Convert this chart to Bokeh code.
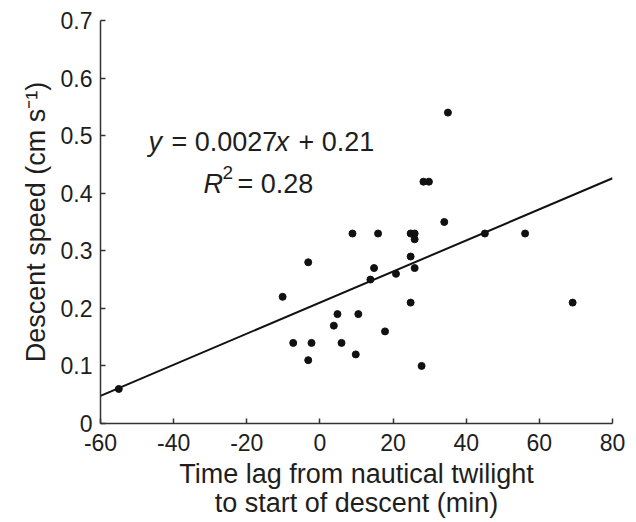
from bokeh.plotting import figure
from bokeh.models import Range1d, Label, FixedTicker, ColumnDataSource
from bokeh.embed import file_html
from bokeh.resources import INLINE

# ---- data ----
time_lag = [-55.0, -10.2, -7.3, -3.2, -3.2, -2.3, 3.8, 4.8, 5.9, 8.9, 9.8,
            10.5, 13.8, 14.8, 15.9, 17.8, 20.8, 24.8, 24.8, 24.8, 25.9, 25.9,
            25.9, 27.8, 28.3, 29.8, 34.0, 35.0, 45.1, 56.1, 69.1]
descent_speed = [0.06, 0.22, 0.14, 0.28, 0.11, 0.14, 0.17, 0.19, 0.14, 0.33, 0.12,
                 0.19, 0.25, 0.27, 0.33, 0.16, 0.26, 0.33, 0.29, 0.21, 0.33, 0.32,
                 0.27, 0.10, 0.42, 0.42, 0.35, 0.54, 0.33, 0.33, 0.21]
fit_slope = 0.0027
fit_intercept = 0.21
r_squared = "0.28"

x_ticks = [-60, -40, -20, 0, 20, 40, 60, 80]
x_tick_labels = ["-60", "-40", "-20", "0", "20", "40", "60", "80"]
y_ticks = [0, 0.1, 0.2, 0.3, 0.4, 0.5, 0.6, 0.7]
y_tick_labels = ["0", "0.1", "0.2", "0.3", "0.4", "0.5", "0.6", "0.7"]

x_title = "Time lag from nautical twilight\nto start of descent (min)"
y_title = "Descent speed (cm s\u207b\u00b9)"

FONT = "Liberation Sans"
TXT = "#1e1e1e"

p = figure(width=636, height=522, output_backend="svg", toolbar_location=None,
           x_range=Range1d(-60, 80), y_range=Range1d(0, 0.7),
           min_border_left=100, min_border_right=24, min_border_top=20,
           min_border_bottom=99)
p.outline_line_color = None
p.grid.visible = False
p.background_fill_color = "white"
p.border_fill_color = "white"

for ax in (p.xaxis[0], p.yaxis[0]):
    ax.major_tick_in = 5
    ax.major_tick_out = 0
    ax.minor_tick_line_color = None
    ax.axis_line_color = "#333333"
    ax.axis_line_width = 1.5
    ax.major_tick_line_color = "#333333"
    ax.major_tick_line_width = 1.5
    ax.major_label_text_font = FONT
    ax.major_label_text_font_size = "23px"
    ax.major_label_text_color = TXT
    ax.axis_label_text_font = FONT
    ax.axis_label_text_font_style = "normal"
    ax.axis_label_text_color = TXT
    ax.axis_label_text_font_size = "27px"

p.xaxis[0].ticker = FixedTicker(ticks=x_ticks)
p.xaxis[0].major_label_overrides = dict(zip(x_ticks, x_tick_labels))
p.xaxis[0].major_label_standoff = 10
p.xaxis[0].axis_label = x_title
p.xaxis[0].axis_label_standoff = 5
p.xaxis[0].axis_label_text_line_height = 0.98

p.yaxis[0].ticker = FixedTicker(ticks=y_ticks)
p.yaxis[0].major_label_overrides = dict(zip(y_ticks, y_tick_labels))
p.yaxis[0].major_label_standoff = 8
p.yaxis[0].axis_label = y_title
p.yaxis[0].axis_label_standoff = 7

# regression line across the x range
x0, x1 = p.x_range.start, p.x_range.end
p.line([x0, x1], [fit_slope * x0 + fit_intercept, fit_slope * x1 + fit_intercept],
       line_color="#111111", line_width=2)

src = ColumnDataSource(dict(x=time_lag, y=descent_speed))
p.scatter("x", "y", source=src, size=7, color="#111111")

# equation annotation
EQ = "27px"
pieces = [
    ("y", 48, 282, "italic", EQ),
    ("= 0.0027", 71, 282, "normal", EQ),
    ("x", 175, 282, "italic", EQ),
    ("+ 0.21", 198, 282, "normal", EQ),
    ("R", 103, 240, "italic", EQ),
    ("2", 122, 251, "normal", "19px"),
    ("= " + r_squared, 137, 240, "normal", EQ),
]
for txt, sx, sy, style, fs in pieces:
    p.add_layout(Label(x=sx, y=sy, x_units="screen", y_units="screen", text=txt,
                       text_align="left", text_baseline="alphabetic",
                       text_font=FONT, text_font_style=style,
                       text_font_size=fs, text_color=TXT))

open("out.html", "w").write(file_html(p, INLINE))
